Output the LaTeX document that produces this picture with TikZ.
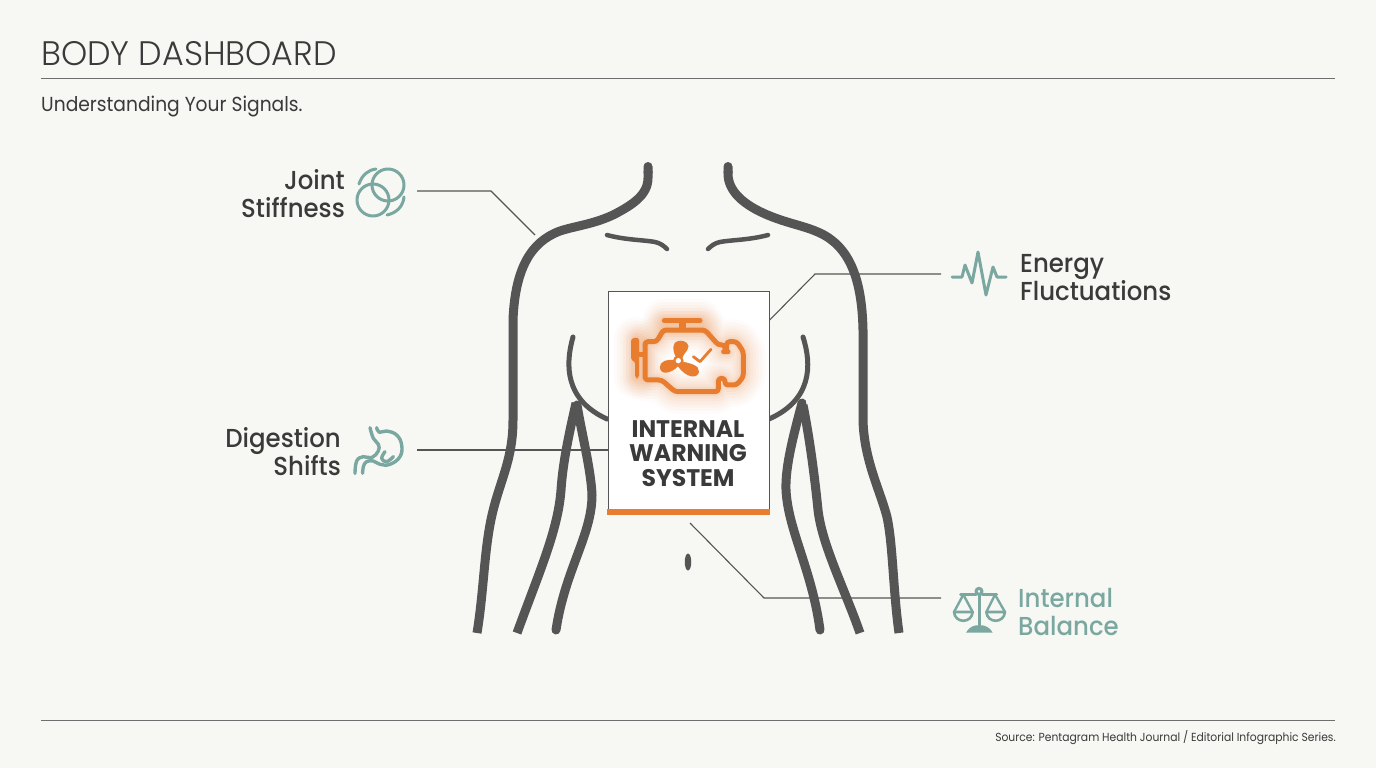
\documentclass[tikz,border=0pt]{standalone}
\usepackage{fontspec}
\usetikzlibrary{shapes.geometric, backgrounds, arrows.meta}
\setmainfont{Poppins}
\newfontfamily\titlefont[FakeStretch=.98]{Poppins Light}
\newfontfamily\plainfont[FakeStretch=.92]{Poppins}
\newfontfamily\labelfont[FakeStretch=.94]{Poppins Medium}
\newfontfamily\cardfont[FakeStretch=.98]{Poppins}
\definecolor{MyPaper}{HTML}{F7F7F4}
\definecolor{MyInk}{HTML}{3A3A3A}
\definecolor{MyBody}{HTML}{555555}
\definecolor{MyTeal}{HTML}{7AA8A0}
\definecolor{MyOrange}{HTML}{E87D2F}
\newcommand{\engineoutline}{(60,95) -- (95,95) -- (115,60) -- (240,60) -- (280,105) -- (300,105) -- (300,125) -- (305,125) -- (305,95) -- (335,95) -- (355,125) -- (355,200) -- (335,225) -- (300,225) -- (300,205) -- (280,205) -- (280,245) -- (150,245) -- (110,210) -- (60,210) -- cycle}
\tikzset{
	bodyline/.style={draw=MyBody, line width=9, line join=round},
	thinbody/.style={draw=MyBody, line width=4.5, line cap=round},
	leader/.style={draw=MyBody, line width=1.1},
	rulebar/.style={draw=MyBody!85, line width=1},
	iconline/.style={draw=MyTeal, line width=3, line cap=round, line join=round},
	engine/.style={draw=MyOrange, line width=5, line join=round, rounded corners=3},
	sideleft/.style={anchor=base east, align=right, inner sep=0, text=MyInk, font=\labelfont\fontsize{26}{28}\selectfont},
	sideright/.style={anchor=base west, align=left, inner sep=0, text=MyInk, font=\labelfont\fontsize{26}{28}\selectfont}
}
\begin{document}
\begin{tikzpicture}[x=1pt, y=-1pt]
	\useasboundingbox (0,0) rectangle (1376,768);

	% header and footer
	\node (title) [anchor=base west, inner sep=0, text=MyInk, font=\titlefont\fontsize{34}{36}\selectfont] at (41,66) {BODY DASHBOARD};
	\node (subtitle) [anchor=base west, inner sep=0, text=MyInk, font=\plainfont\fontsize{20.3}{24}\selectfont] at (41,111) {Understanding Your Signals.};
	\node (source) [anchor=base east, inner sep=0, text=MyInk, font=\plainfont\fontsize{11.7}{13}\selectfont] at (1336,741) {Source: Pentagram Health Journal / Editorial Infographic Series.};
	\coordinate (topL) at (41,79);
	\coordinate (topR) at (1335,79);
	\coordinate (botL) at (41,720);
	\coordinate (botR) at (1335,720);
	\draw[rulebar] (topL) -- (topR);
	\draw[rulebar] (botL) -- (botR);

	\node (card) [anchor=north west, draw=MyBody, line width=1.2, fill=white, minimum width=161, minimum height=222, inner sep=0] at (607.5,291) {};
	\coordinate (energyC) at (card.east |- 0,320);
	\fill[MyOrange] (card.south west) ++(-.5,1) rectangle ([xshift=.5,yshift=5]card.south east);

	\begin{scope}[on background layer]
		\fill[MyPaper] (0,0) rectangle (1376,768);

		% connectors
		\coordinate (jointA) at (417,191);
		\coordinate (jointB) at (491,191);
		\coordinate (jointC) at (535,235);
		\coordinate (energyA) at (941,274);
		\coordinate (energyB) at (815,274);
		\coordinate (digestA) at (417,450);
		\coordinate (balanceA) at (941,598);
		\coordinate (balanceB) at (764,598);
		\coordinate (balanceC) at (690,523);
		\draw[leader] (jointA) -- (jointB) -- (jointC);
		\draw[leader] (energyA) -- (energyB) -- (energyC);
		\draw[leader] (digestA) -- (digestA -| card.west);
		\draw[leader] (balanceA) -- (balanceB) -- (balanceC);

		% body
		\draw[bodyline, {Round Cap[]}-] (648,162) -- (648,178) .. controls (648,195) and (632,205) .. (615,214) .. controls (595,224) and (575,226) .. (560,231) .. controls (530,242) and (515,270) .. (513,320) -- (513,420) .. controls (513,460) and (500,480) .. (492,515) .. controls (484,550) and (484,590) .. (477,633);
		\draw[bodyline, {Round Cap[]}-] (728,162) -- (728,175) .. controls (729,195) and (750,208) .. (770,216) .. controls (790,224) and (805,226) .. (820,233) .. controls (850,247) and (862,280) .. (863,330) -- (863,420) .. controls (864,460) and (880,490) .. (887,517) .. controls (893,545) and (893,590) .. (899,633);
		\draw[bodyline] (576,403) .. controls (570,430) and (563,460) .. (561,490) .. controls (558,530) and (540,570) .. (517,633);
		\draw[bodyline, line cap=round] (577,405) .. controls (582,435) and (591,470) .. (592,495) .. controls (592,535) and (565,570) .. (556,630);
		\draw[bodyline, line cap=round] (802,403) .. controls (795,430) and (785,465) .. (786,490) .. controls (788,530) and (812,570) .. (820,630);
		\draw[bodyline] (803,405) .. controls (810,440) and (815,480) .. (818,510) .. controls (822,545) and (845,590) .. (860,633);
		\draw[thinbody, line width=5] (573,337) .. controls (565,365) and (565,400) .. (607,419);
		\draw[thinbody, line width=5] (803,337) .. controls (812,365) and (812,400) .. (769,419);
		\draw[thinbody] (607,235) .. controls (625,240) and (645,240) .. (655,242) .. controls (660,243) and (664,246) .. (667,249);
		\draw[thinbody] (768,235) .. controls (750,240) and (730,240) .. (720,242) .. controls (715,243) and (711,246) .. (708,249);
		\node (navel) [fill=MyBody, ellipse, minimum width=6.5, minimum height=17, inner sep=0] at (688,562) {};
	\end{scope}

	% engine lamp
	\begin{scope}[shift={(625,310)}, x=.3333pt, y=-.3333pt]
		\foreach \w/\o in {44/.025, 38/.03, 32/.035, 26/.04, 20/.05, 14/.06, 9/.08}{
			\draw[engine, line width=\w, opacity=\o, line cap=round] \engineoutline;
			\draw[engine, line width=\w, opacity=\o, line cap=round] (118,32) -- (225,32);
			\draw[engine, line width=\w, opacity=\o, line cap=round] (32,88) -- (32,200);
		}
		\draw[engine] \engineoutline;
		\draw[engine, line width=5, line cap=round] (118,32) -- (225,32);
		\draw[engine, line width=7] (172,32) -- (172,60);
		\fill[MyOrange, rounded corners=3] (18,85) -- (42,82) -- (42,205) -- (30,205) -- (30,152) -- (18,152) -- cycle;
		\draw[engine] (42,135) -- (60,135);
		\fill[MyOrange] (152,140) .. controls (142,120) and (140,98) .. (160,93) .. controls (182,88) and (198,105) .. (187,120) .. controls (180,130) and (174,136) .. (172,144) -- cycle;
		\fill[MyOrange] (150,150) .. controls (130,148) and (106,150) .. (105,172) .. controls (105,196) and (138,192) .. (160,168) -- cycle;
		\fill[MyOrange] (172,155) .. controls (197,160) and (224,166) .. (222,186) .. controls (217,208) and (183,204) .. (158,168) -- cycle;
		\fill[MyOrange] (160,152) circle[radius=16];
		\fill[white] (160,152) circle[radius=8];
		\draw[engine, line width=2.8, line cap=round, rounded corners=0] (205,140) -- (225,155) -- (258,118);
	\end{scope}
	\node (cardtext) [anchor=base, align=center, inner sep=0, text=MyInk, font=\cardfont\bfseries\fontsize{24}{24.5}\selectfont] at (688,486) {INTERNAL\\WARNING\\SYSTEM};

	% side labels
	\node (jointLabel) [sideleft] at (345,217) {Joint\\Stiffness};
	\node (digestLabel) [sideleft] at (341,475) {Digestion\\Shifts};
	\node (energyLabel) [sideright] at (1020,300) {Energy\\Fluctuations};
	\node (balanceLabel) [sideright, text=MyTeal] at (1018,635) {Internal\\Balance};

	% joint icon
	\draw[iconline] (388,185) circle[radius=16];
	\draw[iconline] (373,200) circle[radius=16];
	\draw[iconline] (359,184) .. controls (362,175) and (368,170) .. (376,169);
	\draw[iconline] (387,215) .. controls (396,213) and (403,207) .. (404,197);

	% pulse icon
	\draw[iconline] (952,277) -- (962,277) -- (965,265) -- (972,283) -- (978,252) -- (986,295) -- (993,267) -- (997,277) -- (1006,277);

	% stomach icon
	\begin{scope}[shift={(350,425)}, x=.3333pt, y=-.3333pt]
		\draw[iconline, line width=3.4] plot[smooth, tension=.7] coordinates {(60,8) (70,40) (85,58) (85,78) (65,98) (40,95) (20,108) (15,145)};
		\draw[iconline, line width=3.4] plot[smooth, tension=.7] coordinates {(80,8) (88,22) (110,18) (140,30) (155,60) (150,95) (120,118) (90,118) (70,108) (50,110) (40,125) (38,145)};
		\draw[iconline, line width=3.4] plot[smooth, tension=.7] coordinates {(105,80) (95,100) (110,110) (130,95)};
	\end{scope}

	% scale icon
	\begin{scope}[shift={(950,582)}, x=.3333pt, y=-.3333pt]
		\draw[iconline] (32,38) -- (78,38);
		\draw[iconline] (96,38) -- (140,38);
		\draw[iconline] (87,28) circle[radius=9];
		\draw[iconline] (87,37) -- (87,130);
		\fill[MyTeal] (48,152) .. controls (55,140) and (65,132) .. (78,130) -- (98,130) .. controls (110,132) and (122,140) .. (128,152) -- cycle;
		\draw[iconline, line width=2.4] (40,38) -- (12,90);
		\draw[iconline, line width=2.4] (40,38) -- (68,90);
		\draw[iconline, line width=2.4] (135,38) -- (109,90);
		\draw[iconline, line width=2.4] (135,38) -- (165,90);
		\draw[iconline, line width=2.6] (12,90) -- (68,90) .. controls (65,125) and (15,125) .. (12,90);
		\draw[iconline, line width=2.6] (109,90) -- (165,90) .. controls (162,125) and (112,125) .. (109,90);
	\end{scope}
\end{tikzpicture}
\end{document}
